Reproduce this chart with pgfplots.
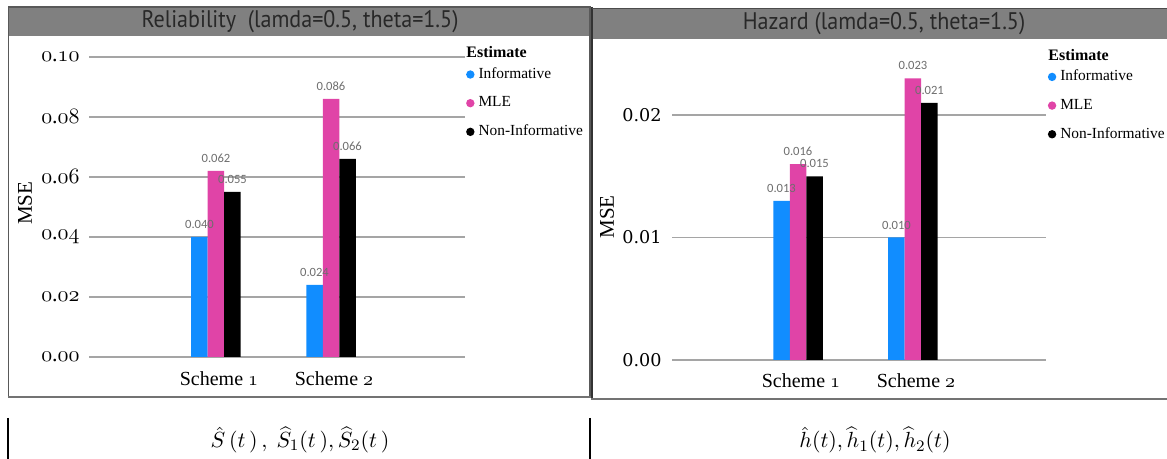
\documentclass[border=0pt]{standalone}
\usepackage{graphicx}
\usepackage{pgfplots}
\pgfplotsset{compat=1.18}
\usepackage{fontspec}
\setmainfont{Liberation Serif}
\newfontfamily\titlefont{PT Sans}
\newfontfamily\dlfont{Carlito}
\newfontfamily\tickfont{DejaVu Serif}
\newcommand\osn[1]{{\usefont{OML}{cmm}{m}{it}#1}}
\newcommand\osd[2]{\osn{#1}.\osn{#2}}
\definecolor{cBlue}{RGB}{17,141,255}
\definecolor{cPink}{RGB}{224,68,167}
\definecolor{titlebar}{RGB}{128,128,128}
\definecolor{titletext}{RGB}{40,40,40}
\definecolor{gridc}{RGB}{165,165,165}
\definecolor{dlc}{RGB}{110,110,110}
\pgfplotsset{
  circleleg/.style={legend image code/.code={\fill[##1] (2.1pt,0pt) circle (2.1pt);}},
  mybar/.style={
    scale only axis,
    ybar=0pt, bar width=8.25pt,
    axis line style={draw=none},
    major tick style={draw=none},
    ymajorgrids, grid style={gridc, line width=0.6pt},
    scaled y ticks=false,
    xtick={0,1},
    xticklabels={Scheme \osn{1}, Scheme \osn{2}},
    xticklabel style={font=\fontsize{10}{12}\selectfont, anchor=base, inner sep=0pt, xshift=1.5pt},
    yticklabel style={anchor=east, inner sep=0pt},
    clip=false,
    nodes near coords,
    point meta=y,
    /pgf/number format/assume math mode=true,
    nodes near coords style={font=\dlfont\fontsize{6.3}{7}\selectfont, text=dlc, inner sep=0pt, anchor=south, yshift=4pt,
      /pgf/number format/fixed, /pgf/number format/precision=3, /pgf/number format/fixed zerofill},
    legend style={draw=none, fill=none, inner sep=0pt, outer sep=0pt, anchor=north west,
      font=\fontsize{7.7}{9}\selectfont, cells={anchor=west}, row sep=3.6pt},
    ylabel style={font=\fontsize{10.5}{12}\selectfont, anchor=center},
  }
}
\begin{document}
\begin{tikzpicture}[x=0.5pt,y=-0.5pt]
\useasboundingbox (0,0) rectangle (1167,459);
\coordinate (LA) at (89,357);
\coordinate (RA) at (672,360);
% ---------- left panel frame and title
\fill[titlebar] (9,7) rectangle (589,36);
\draw[black!65, line width=0.7pt] (8.5,7) rectangle (590,397);
\draw[black!55, line width=1pt] (8,397.5) -- (591,397.5);
\node[text=titletext, inner sep=0pt] at (300,22) {\scalebox{0.92}[1]{\titlefont\fontsize{12}{13}\selectfont Reliability\ \ (lamda=0.5, theta=1.5)}};
% ---------- right panel frame and title
\fill[titlebar] (593,8) rectangle (1167,39);
\draw[black!80, line width=1pt] (591.5,7) -- (591.5,399.5);
\draw[black!70, line width=0.8pt] (592,8.5) -- (1167,8.5);
\draw[black!55, line width=1pt] (591,399.5) -- (1167,399.5);
\node[text=titletext, inner sep=0pt] at (884,24) {\scalebox{0.92}[1]{\titlefont\fontsize{12}{13}\selectfont Hazard (lamda=0.5, theta=1.5)}};

% ---------- left axis
\begin{axis}[mybar,
  at={(LA)}, anchor=south west,
  width=188pt, height=150pt,
  xmin=-1.104, xmax=2.165, ymin=0, ymax=0.1,
  ytick={0,0.02,0.04,0.06,0.08,0.1},
  yticklabels={\osd{0}{00},\osd{0}{02},\osd{0}{04},\osd{0}{06},\osd{0}{08},\osd{0}{10}},
  yticklabel style={font=\fontsize{11}{12}\selectfont, xshift=-4.5pt},
  xticklabel style={yshift=-10pt},
  ylabel={MSE},
  ylabel style={at={(axis description cs:-0.170,0.513)}},
  legend style={at={(1.003,0.978)}},
]
\addplot[fill=cBlue, draw=none, circleleg] coordinates {(0,0.040) (1,0.024)};
\addlegendentry{Informative}
\addplot[fill=cPink, draw=none, circleleg] coordinates {(0,0.062) (1,0.086)};
\addlegendentry{MLE}
\addplot[fill=black, draw=none, circleleg] coordinates {(0,0.055) (1,0.066)};
\addlegendentry{Non-Informative}
\end{axis}
\node[anchor=west, inner sep=0pt, font=\bfseries\fontsize{8}{9}\selectfont] at (466,52) {Estimate};

% ---------- right axis
\begin{axis}[mybar,
  at={(RA)}, anchor=south west,
  width=187pt, height=122.5pt,
  xmin=-1.096, xmax=2.157, ymin=0, ymax=0.02,
  ytick={0,0.01,0.02},
  yticklabels={0.00,0.01,0.02},
  yticklabel style={font=\tickfont\fontsize{8.8}{10}\selectfont, xshift=-5pt},
  xticklabel style={yshift=-9.5pt},
  ylabel={MSE},
  ylabel style={at={(axis description cs:-0.174,0.584)}},
  legend style={at={(1.005,1.2)}},
]
\addplot[fill=cBlue, draw=none, circleleg] coordinates {(0,0.013) (1,0.010)};
\addlegendentry{Informative}
\addplot[fill=cPink, draw=none, circleleg] coordinates {(0,0.016) (1,0.023)};
\addlegendentry{MLE}
\addplot[fill=black, draw=none, circleleg] coordinates {(0,0.015) (1,0.021)};
\addlegendentry{Non-Informative}
\end{axis}
\node[anchor=west, inner sep=0pt, font=\bfseries\fontsize{8}{9}\selectfont] at (1048,55) {Estimate};

% ---------- bottom row
\draw[line width=0.8pt] (8,418) -- (8,459);
\draw[line width=0.8pt] (590,418) -- (590,459);
\node[font=\fontsize{11}{12}\selectfont] at (300,440) {$\hat{S}\,(t\,)\,,\ \widehat{S}_1(t\,),\widehat{S}_2(t\,)$};
\node[font=\fontsize{11}{12}\selectfont] at (875,440) {$\hat{h}(t),\widehat{h}_1(t),\widehat{h}_2(t)$};
\end{tikzpicture}
\end{document}
